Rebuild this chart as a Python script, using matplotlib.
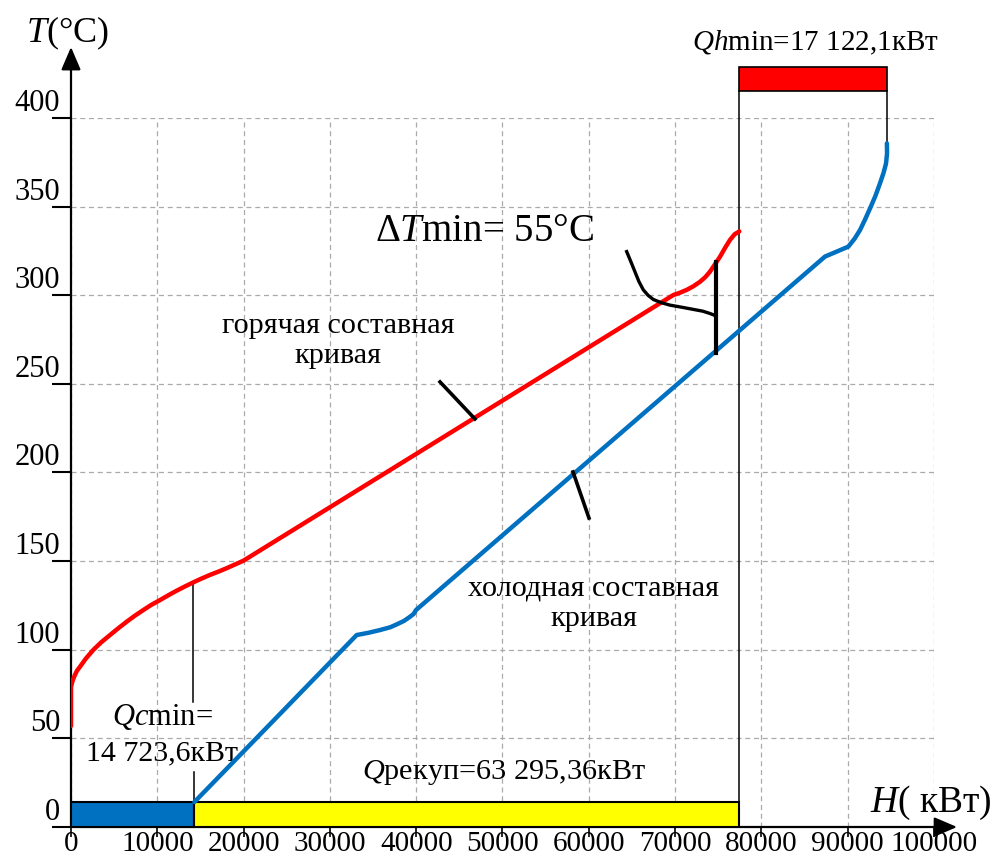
import matplotlib
matplotlib.use("Agg")
import matplotlib.pyplot as plt
from matplotlib.patches import Rectangle
from matplotlib.transforms import ScaledTranslation

plt.rcParams['font.family'] = ['Liberation Serif', 'DejaVu Serif']
plt.rcParams['mathtext.fontset'] = 'custom'
plt.rcParams['mathtext.rm'] = 'Liberation Serif'
plt.rcParams['mathtext.it'] = 'Liberation Serif:italic'

# ---------------- data ----------------
hot_H = [0, 0, 200, 460, 700, 1040, 1700, 2580, 3500, 4520, 5500, 6450, 7400, 8380,
         9300, 10310, 11300, 12240, 13200, 14170, 15100, 16100, 17100, 18040, 19000,
         19970, 69790, 70500, 71340, 72100, 72890, 73500, 74040, 74600, 75200, 75800,
         76360, 76900, 77440]
hot_T = [57, 79, 82.8, 85.8, 88.2, 90.4, 94.9, 99.9, 104.2, 108.3, 112.2, 115.8,
         119.2, 122.4, 125.3, 128, 130.8, 133.3, 135.7, 138, 140.1, 142.2, 144.1,
         146, 148.1, 150.2, 300.1, 301.3, 303, 305, 307.6, 310.2, 313.3, 317.3,
         321.7, 326.8, 331.2, 334.4, 336]

cold_H = [14300, 33100, 34500, 35800, 37000, 37740, 38600, 39280, 39700, 39980,
          87370, 90070, 90800, 91430, 92000, 92590, 93200, 93740, 94150, 94440,
          94560, 94540]
cold_T = [14.1, 108.3, 109.6, 111.1, 112.7, 114.3, 116.3, 118.6, 120.2, 122.4,
          321.8, 327.4, 331.9, 336.8, 342.6, 349, 355.9, 363.1, 369, 374.3,
          380, 385.7]

Qc_min = 14300      # end of cold utility bar
H_hot_end = 77440   # end of recovery / start of hot utility
H_cold_end = 94540  # end of cold curve
bar_T = [0, 14.1]       # bottom bars
top_bar_T = [415, 429]  # hot utility bar

# ΔTmin marker
dT_H = 74740
dT_T = [267.6, 318.9]
bracket_H = [64390, 64850, 65350, 65800, 66320, 66900, 67480, 68400, 69410,
             70800, 72110, 73200, 74040, 74500, 74740]
bracket_T = [324.6, 319.2, 313.2, 307.8, 303, 299.8, 297.6, 295.8, 294.4,
             293.2, 292, 291, 289.7, 288.8, 288.3]

hot_leader_H = [42760, 46810]
hot_leader_T = [251.1, 230.2]
cold_leader_H = [58170, 60020]
cold_leader_T = [200.3, 174.3]

x_ticks = [0, 10000, 20000, 30000, 40000, 50000, 60000, 70000, 80000, 90000, 100000]
x_labels = ['0', '10000', '20000', '30000', '40000', '50000', '60000', '70000',
            '80000', '90000', '100000']
y_ticks = [0, 50, 100, 150, 200, 250, 300, 350, 400]
y_labels = ['0', '50', '100', '150', '200', '250', '300', '350', '400']

RED = '#FF0000'
BLUE = '#0070C0'
YELLOW = '#FFFF00'

fig = plt.figure(figsize=(10, 8.65), dpi=100)
ax = fig.add_axes([0.071, 0.04393, 0.863, 0.8197])
ax.set_xlim(0, 100000)
ax.set_ylim(0, 400)
for s in ax.spines.values():
    s.set_visible(False)

ax.set_xticks(x_ticks)
ax.set_xticklabels(x_labels)
ax.set_yticks(y_ticks)
ax.set_yticklabels(y_labels)
ax.grid(True, color='#aaaaaa', linestyle=(0, (4, 3)), lw=0.9, zorder=0)
ax.set_axisbelow(True)
ax.tick_params(axis='y', length=13.7, width=1.5, direction='out', pad=-5.8,
               labelsize=22)
ax.tick_params(axis='x', length=7.2, width=1.2, direction='out', pad=-4.2,
               labelsize=21)
off = ScaledTranslation(0, 18 / 100, fig.dpi_scale_trans)
for t in ax.yaxis.get_major_ticks():
    t.label1.set_transform(t.label1.get_transform() + off)

# axes arrows
ax.annotate('', xy=(0, 440), xytext=(0, 0), xycoords='data', textcoords='data',
            arrowprops=dict(arrowstyle='-|>,head_length=0.7,head_width=0.3',
                            mutation_scale=20, lw=1.6, color='black',
                            shrinkA=0, shrinkB=0), annotation_clip=False)
ax.annotate('', xy=(102670, 0), xytext=(0, 0), xycoords='data', textcoords='data',
            arrowprops=dict(arrowstyle='-|>,head_length=0.7,head_width=0.3',
                            mutation_scale=20, lw=1.6, color='black',
                            shrinkA=0, shrinkB=0), annotation_clip=False)

# bars
ax.add_patch(Rectangle((0, bar_T[0]), Qc_min, bar_T[1] - bar_T[0],
                       facecolor=BLUE, edgecolor='black', lw=1.5, zorder=3))
ax.add_patch(Rectangle((Qc_min, bar_T[0]), H_hot_end - Qc_min, bar_T[1] - bar_T[0],
                       facecolor=YELLOW, edgecolor='black', lw=1.5, zorder=3))
ax.add_patch(Rectangle((H_hot_end, top_bar_T[0]), H_cold_end - H_hot_end,
                       top_bar_T[1] - top_bar_T[0], facecolor=RED,
                       edgecolor='black', lw=1.2, zorder=3, clip_on=False))

# thin vertical lines
ax.plot([H_hot_end, H_hot_end], [0, top_bar_T[0]], color='black', lw=1.1,
        zorder=4, clip_on=False)
ax.plot([H_cold_end, H_cold_end], [cold_T[-1], top_bar_T[0]], color='black',
        lw=1.1, zorder=4, clip_on=False)
ax.plot([14170, 14170], [138, 70.7], color='black', lw=1.1, zorder=4)
ax.plot([Qc_min, Qc_min], [31, bar_T[1]], color='black', lw=1.1, zorder=4)

# composite curves
ax.plot(hot_H, hot_T, color=RED, lw=3.2, solid_capstyle='round',
        solid_joinstyle='round', zorder=5)
ax.plot(cold_H, cold_T, color=BLUE, lw=3.2, solid_capstyle='round',
        solid_joinstyle='round', zorder=5)

# markers / leaders
ax.plot(bracket_H, bracket_T, color='black', lw=2.4, zorder=6,
        solid_joinstyle='round')
ax.plot([dT_H, dT_H], dT_T, color='black', lw=3.0, zorder=6)
ax.plot(hot_leader_H, hot_leader_T, color='black', lw=2.6, zorder=6)
ax.plot(cold_leader_H, cold_leader_T, color='black', lw=2.6, zorder=6)

# texts
ax.text(-460, 448, '$T$(°C)', fontsize=26, ha='center', va='center', clip_on=False)
ax.text(99650, 13.5, '$H$( кВт)', fontsize=27, ha='center', va='center', clip_on=False)
ax.text(47860, 335.7, 'Δ$T$min= 55°C', fontsize=28, ha='center', va='center')
ax.text(86330, 442.3, '$Qh$min=17 122,1кВт', fontsize=21, ha='center', va='center',
        clip_on=False)
ax.text(10540, 62, '$Qc$min=', fontsize=22, ha='center', va='center')
ax.text(10540, 41.7, '14 723,6кВт', fontsize=21.5, ha='center', va='center')
ax.text(50170, 30.5, '$Q$рекуп=63 295,36кВт', fontsize=21.8, ha='center', va='center')
ax.text(30940, 273.9, 'горячая составная\nкривая', fontsize=21.7, ha='center',
        va='center', linespacing=1.2)
ax.text(60600, 126, 'холодная составная\nкривая', fontsize=21.7, ha='center',
        va='center', linespacing=1.2)

fig.savefig('out.png', dpi=100)
